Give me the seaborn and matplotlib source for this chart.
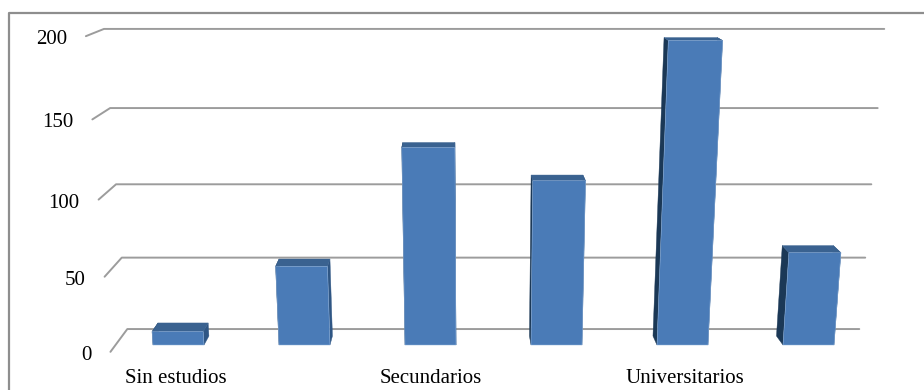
import numpy as np
import matplotlib
matplotlib.use("Agg")
import matplotlib.pyplot as plt
import seaborn as sns
from matplotlib.lines import Line2D
from matplotlib.patches import Polygon
from matplotlib.transforms import Affine2D, IdentityTransform, Transform

# Survey counts by level of education
positions = [0, 1, 2, 3, 4, 5]
counts = [9, 53, 130, 109, 196, 62]
category_labels = ["Sin estudios", "", "Secundarios", "", "Universitarios", ""]
value_ticks = [0, 50, 100, 150, 200]
value_tick_labels = ["0", "50", "100", "150", "200"]

# Rendered height of each tick value on the plane of the bar fronts (px from the top)
TICK_ROWS = np.array([345.0, 271.0, 195.0, 116.0, 34.0])

W, H, DPI = 924, 390, 100
VANISH = (453.0, -111.0)     # vanishing point of the receding edges
LEAN, LEAN_CENTRE = 0.066, 482.0  # outward lean of verticals
DEPTH_FLOOR_FRONT, DEPTH_WALL, DEPTH_BAR = -0.015, 0.035, 0.0197

FRONT, TOP, LEFT_SIDE, RIGHT_SIDE = "#4a7bb7", "#3a6290", "#1b3856", "#2f5684"
EDGE, GRID, FRAME = "#8fb2dc", "#9c9c9c", "#8e8e8e"


class Perspective(Transform):
    """Pushes display points back toward the vanishing point and leans verticals."""
    input_dims = output_dims = 2

    def __init__(self, recede):
        super().__init__()
        self.recede = recede

    def transform_non_affine(self, pts):
        pts = np.asarray(pts, dtype=float)
        x, y = pts[:, 0], H - pts[:, 1]
        x = x + LEAN * (x - LEAN_CENTRE) * (TICK_ROWS[0] - y) / (TICK_ROWS[0] - TICK_ROWS[-1])
        x = x + self.recede * (VANISH[0] - x)
        y = y + self.recede * (VANISH[1] - y)
        return np.column_stack([x, H - y])


sns.set_style("white")
plt.rcParams["font.family"] = ["Liberation Serif", "DejaVu Serif"]

fig = plt.figure(figsize=(W / DPI, H / DPI), dpi=DPI)
ax = fig.add_axes([115.5 / W, (H - TICK_ROWS[0]) / H, 756 / W, (TICK_ROWS[0] - TICK_ROWS[-1]) / H])
ax.patch.set_visible(False)

sns.barplot(x=positions, y=counts, color=FRONT, saturation=1, width=0.405, ax=ax, zorder=5)

ax.set_yscale(
    "function",
    functions=(
        lambda v: np.interp(v, value_ticks, H - TICK_ROWS),
        lambda p: np.interp(p, H - TICK_ROWS, value_ticks),
    ),
)
ax.set_xlim(-0.5, 5.5)
ax.set_ylim(0, 200)
sns.despine(ax=ax, left=True, bottom=True)
ax.tick_params(length=0, labelsize=15, labelcolor="black")
ax.set_xlabel("")
ax.set_ylabel("")


def project(x, value, recede):
    return (ax.transData + Perspective(recede)).transform([(x, value)])[0]


def face(corners, colour, order):
    verts = [project(*c) for c in corners]
    ax.add_patch(Polygon(verts, closed=True, facecolor=colour, edgecolor=colour, linewidth=0.3,
                         transform=IdentityTransform(), clip_on=False, zorder=order))


# Floor and value gridlines: a short receding stroke, then across the back wall
for v in value_ticks:
    start = project(-0.5, v, DEPTH_FLOOR_FRONT)
    corner = project(-0.5, v, DEPTH_WALL)
    end = project(5.52, v, DEPTH_WALL)
    ax.add_line(Line2D([start[0], corner[0], end[0]], [start[1], corner[1], end[1]],
                       color=GRID, lw=1.4, transform=IdentityTransform(), clip_on=False, zorder=1))

# Box faces behind each front rectangle
half = 0.405 / 2
for pos, val, bar in zip(positions, counts, ax.patches):
    x0, x1 = pos - half, pos + half
    face([(x0, 0, 0), (x0, 0, DEPTH_BAR), (x0, val, DEPTH_BAR), (x0, val, 0)], LEFT_SIDE, 3)
    face([(x1, 0, 0), (x1, 0, DEPTH_BAR), (x1, val, DEPTH_BAR), (x1, val, 0)], RIGHT_SIDE, 3)
    face([(x0, val, 0), (x1, val, 0), (x1, val, DEPTH_BAR), (x0, val, DEPTH_BAR)], TOP, 4)
    bar.set_transform(ax.transData + Perspective(0.0))
    bar.set_clip_on(False)
    bar.set_edgecolor(EDGE)
    bar.set_linewidth(0.35)

# Value labels follow the slanted front edge of the floor
ax.set_yticks(value_ticks, labels=value_tick_labels)
for tick in ax.yaxis.get_major_ticks():
    tick.label1.set_x(-0.5)
    tick.label1.set_transform(ax.transData + Perspective(DEPTH_FLOOR_FRONT) + Affine2D().translate(-19, -1))

# Only every other category carries a label
ax.set_xticks(positions, labels=category_labels)
ax.tick_params(axis="x", pad=17)
for tick in ax.xaxis.get_major_ticks():
    tick.label1.set_transform(
        tick.label1.get_transform() + Affine2D().translate(-453, 0).scale(1.011, 1).translate(453, 0)
    )

# Chart frame, open on the right and at the bottom
fig.add_artist(Line2D([8.5 / W, 8.5 / W, 1], [0, 1 - 13 / H, 1 - 13 / H], color=FRAME, lw=1.6,
                      transform=fig.transFigure))

fig.savefig("out.png", dpi=DPI)
